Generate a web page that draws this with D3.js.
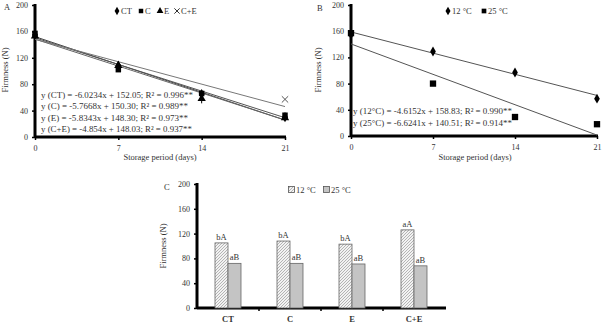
<!DOCTYPE html>
<html><head><meta charset="utf-8">
<script src="https://cdn.jsdelivr.net/npm/d3@7"></script>
<style>
body{margin:0;background:#fff;}
svg text{font-family:"Liberation Serif","Times New Roman",serif;fill:#333;}
</style></head>
<body>
<svg id="c" width="603" height="332"></svg>
<script>
// ---- Data ----
const days = [0, 7, 14, 21];
const yTicks = [0, 40, 80, 120, 160, 200];

// Panel A
const seriesA = ["CT", "C", "E", "C+E"];
const valCT = [155, 108, 65, 30];
const valC = [157, 102, 66, 33];
const valE = [153, 108, 58, 29];
const valCE = [152, 110, 70, 57];
const errA = [4, 5, 7, 3];
const slopeA = [-6.0234, -5.7668, -5.8343, -4.854];
const interceptA = [152.05, 150.30, 148.30, 148.03];
const eqA = [
  "y (CT) = -6.0234x + 152.05; R² = 0.996**",
  "y (C) = -5.7668x + 150.30; R² = 0.989**",
  "y (E) = -5.8343x + 148.30; R² = 0.973**",
  "y (C+E) = -4.854x + 148.03; R² = 0.937**"
];

// Panel B
const seriesB = ["12 °C", "25 °C"];
const val12 = [155, 129, 97, 57];
const val25 = [157, 80, 29, 18];
const slopeB = [-4.6152, -6.6241];
const interceptB = [158.83, 140.51];
const eqB = [
  "y (12°C) = -4.6152x + 158.83; R² = 0.990**",
  "y (25°C) = -6.6241x + 140.51; R² = 0.914**"
];

// Panel C
const treatments = ["CT", "C", "E", "C+E"];
const bar12 = [105, 108, 103, 126];
const bar25 = [72, 72, 71, 68];
const lab12 = ["bA", "bA", "bA", "aA"];
const lab25 = ["aB", "aB", "aB", "aB"];

// ---- Drawing ----
const svg = d3.select("#c");
const defs = svg.append("defs");
const pat = defs.append("pattern").attr("id", "hatch").attr("patternUnits", "userSpaceOnUse")
  .attr("width", 3).attr("height", 3);
pat.append("rect").attr("width", 3).attr("height", 3).attr("fill", "#f2f2f2");
pat.append("path").attr("d", "M-1,1 l2,-2 M0,3 l3,-3 M2,4 l2,-2").attr("stroke", "#9a9a9a").attr("stroke-width", 0.7);

function symbolPath(type, size) {
  return d3.symbol().type(type).size(size)();
}
const symTypes = [d3.symbolDiamond, d3.symbolSquare, d3.symbolTriangle, d3.symbolTimes];

// fit a text's font size to a target width
function fitText(sel, targetW) {
  const w = sel.node().getComputedTextLength();
  const fs = parseFloat(sel.attr("font-size"));
  if (w > 0) sel.attr("font-size", (fs * targetW / w).toFixed(2));
}

function drawAxes(g, x, y, xTicks) {
  const [x0, x1] = x.range();
  const [y0] = y.range();
  const ya = d3.axisLeft(y).tickValues(yTicks).tickSize(3).tickPadding(4);
  const gy = g.append("g").attr("transform", `translate(${x0},0)`).call(ya);
  gy.select(".domain").remove();
  gy.selectAll("line").attr("stroke", "#000").attr("stroke-width", 1.5);
  gy.selectAll("text").attr("font-size", 8).attr("font-family", "Liberation Serif").attr("fill", "#444");
  g.append("line").attr("x1", x0).attr("x2", x0).attr("y1", y.range()[1] - 1).attr("y2", y0)
    .attr("stroke", "#000").attr("stroke-width", 3);
  g.append("line").attr("x1", x0).attr("x2", x1 + 1).attr("y1", y0).attr("y2", y0)
    .attr("stroke", "#000").attr("stroke-width", 3);
  if (xTicks) {
    const xa = d3.axisBottom(x).tickValues(xTicks).tickSize(3).tickPadding(5);
    const gx = g.append("g").attr("transform", `translate(0,${y0})`).call(xa);
    gx.select(".domain").remove();
    gx.selectAll("line").attr("stroke", "#000").attr("stroke-width", 1.5);
    gx.selectAll("text").attr("font-size", 8).attr("font-family", "Liberation Serif").attr("fill", "#444");
  }
}

// ---------- Panel A ----------
{
  const g = svg.append("g");
  const x = d3.scaleLinear().domain([0, 21]).range([35, 285]);
  const y = d3.scaleLinear().domain([0, 200]).range([137, 5]);
  drawAxes(g, x, y, days);
  g.append("text").attr("x", 4).attr("y", 10).attr("font-size", 8.5).text("A");
  g.append("text").attr("transform", "translate(8,70) rotate(-90)").attr("text-anchor", "middle")
    .attr("font-size", 8.5).text("Firmness (N)");
  g.append("text").attr("x", 160).attr("y", 160).attr("text-anchor", "middle").attr("font-size", 8.5).text("Storage period (days)");
  const lineCols = ["#444", "#555", "#666", "#777"];
  slopeA.forEach((s, i) => {
    g.append("line").attr("x1", x(0)).attr("y1", y(interceptA[i])).attr("x2", x(21)).attr("y2", y(interceptA[i] + s * 21))
      .attr("stroke", lineCols[i]).attr("stroke-width", 1);
  });
  days.forEach((d, j) => {
    g.append("line").attr("x1", x(d)).attr("x2", x(d)).attr("y1", y(valE[j] - errA[j])).attr("y2", y(valE[j] + errA[j]))
      .attr("stroke", "#000").attr("stroke-width", 1);
  });
  const allA = [valCT, valC, valE, valCE];
  allA.forEach((vals, i) => {
    vals.forEach((v, j) => {
      if (i === 3 && j < 3) return;
      g.append("path").attr("d", symbolPath(symTypes[i], i === 3 ? 28 : 30))
        .attr("transform", `translate(${x(days[j])},${y(v)})`)
        .attr("fill", i === 3 ? "none" : "#000").attr("stroke", i === 3 ? "#555" : "none").attr("stroke-width", 1);
    });
  });
  const lx = [117, 141, 160, 177];
  seriesA.forEach((s, i) => {
    g.append("path").attr("d", symbolPath(symTypes[i], 20))
      .attr("transform", `translate(${lx[i]},11)`)
      .attr("fill", i === 3 ? "none" : "#000").attr("stroke", i === 3 ? "#333" : "none");
    g.append("text").attr("x", lx[i] + 4).attr("y", 14).attr("font-size", 8.5).text(s);
  });
  const eqW = [152, 147, 147, 151];
  eqA.forEach((t, i) => {
    const tx = g.append("text").attr("x", 41).attr("y", 98 + i * 11.3).attr("font-size", 8).text(t);
    fitText(tx, eqW[i]);
  });
}

// ---------- Panel B ----------
{
  const g = svg.append("g");
  const x = d3.scaleLinear().domain([0, 21]).range([351, 597]);
  const y = d3.scaleLinear().domain([0, 200]).range([136, 5]);
  drawAxes(g, x, y, days);
  g.append("text").attr("x", 317).attr("y", 11).attr("font-size", 8.5).text("B");
  g.append("text").attr("transform", "translate(321,70) rotate(-90)").attr("text-anchor", "middle")
    .attr("font-size", 8.5).text("Firmness (N)");
  g.append("text").attr("x", 475).attr("y", 160).attr("text-anchor", "middle").attr("font-size", 8.5).text("Storage period (days)");
  slopeB.forEach((s, i) => {
    g.append("line").attr("x1", x(0)).attr("y1", y(interceptB[i])).attr("x2", x(21)).attr("y2", y(interceptB[i] + s * 21))
      .attr("stroke", "#555").attr("stroke-width", 1);
  });
  [val12, val25].forEach((vals, i) => {
    vals.forEach((v, j) => {
      g.append("path").attr("d", symbolPath(i === 0 ? d3.symbolDiamond : d3.symbolSquare, i === 0 ? 28 : 40))
        .attr("transform", `translate(${x(days[j])},${y(v)})`).attr("fill", "#000");
    });
  });
  const lx = [448, 484];
  seriesB.forEach((s, i) => {
    g.append("path").attr("d", symbolPath(i === 0 ? d3.symbolDiamond : d3.symbolSquare, 22))
      .attr("transform", `translate(${lx[i]},11)`).attr("fill", "#000");
    g.append("text").attr("x", lx[i] + 4).attr("y", 14).attr("font-size", 8.5).text(s);
  });
  eqB.forEach((t, i) => {
    const tx = g.append("text").attr("x", 353).attr("y", 114 + i * 12).attr("font-size", 8).text(t);
    fitText(tx, 159);
  });
}

// ---------- Panel C ----------
{
  const g = svg.append("g");
  const x = d3.scaleBand().domain(treatments).range([197, 445]);
  const y = d3.scaleLinear().domain([0, 200]).range([308, 184]);
  const sub = d3.scaleBand().domain([0, 1]).range([0, 26]);
  drawAxes(g, d3.scaleLinear().range([197, 445]), y, null);
  const bounds = treatments.slice(1).map(t => x(t));
  g.selectAll(".bt").data(bounds).join("line").attr("x1", d => d).attr("x2", d => d)
    .attr("y1", 308).attr("y2", 311).attr("stroke", "#000").attr("stroke-width", 1.5);
  g.selectAll(".cl").data(treatments).join("text")
    .attr("x", d => x(d) + x.bandwidth() / 2).attr("y", 322).attr("text-anchor", "middle")
    .attr("font-size", 8.5).attr("font-weight", "bold").attr("fill", "#444").text(d => d);
  g.append("text").attr("x", 164).attr("y", 190).attr("font-size", 8.5).text("C");
  g.append("text").attr("transform", "translate(166,246) rotate(-90)").attr("text-anchor", "middle")
    .attr("font-size", 8.5).text("Firmness (N)");
  g.append("text").attr("x", 320).attr("y", 338).attr("text-anchor", "middle").attr("font-size", 8.5).attr("fill", "#aaa").text("Treatments");
  [bar12, bar25].forEach((vals, i) => {
    g.selectAll(".b" + i).data(treatments).join("rect")
      .attr("x", d => x(d) + x.bandwidth() / 2 - 13 + sub(i))
      .attr("y", (d, k) => y(vals[k]))
      .attr("width", sub.bandwidth())
      .attr("height", (d, k) => 308 - y(vals[k]))
      .attr("fill", i === 0 ? "url(#hatch)" : "#c4c4c4")
      .attr("stroke", "#666").attr("stroke-width", 0.8);
    const labs = i === 0 ? lab12 : lab25;
    g.selectAll(".l" + i).data(treatments).join("text")
      .attr("x", d => x(d) + x.bandwidth() / 2 - 13 + sub(i) + sub.bandwidth() / 2)
      .attr("y", (d, k) => y(vals[k]) - 3)
      .attr("text-anchor", "middle").attr("font-size", 8.5).text((d, k) => labs[k]);
  });
  const lx = [292, 327];
  seriesB.forEach((s, i) => {
    g.append("rect").attr("x", lx[i] - 3.5).attr("y", 186.5).attr("width", 6).attr("height", 6)
      .attr("fill", i === 0 ? "url(#hatch)" : "#c4c4c4").attr("stroke", "#555").attr("stroke-width", 0.8);
    g.append("text").attr("x", lx[i] + 4).attr("y", 193).attr("font-size", 8.5).text(s);
  });
}
</script>
</body></html>
